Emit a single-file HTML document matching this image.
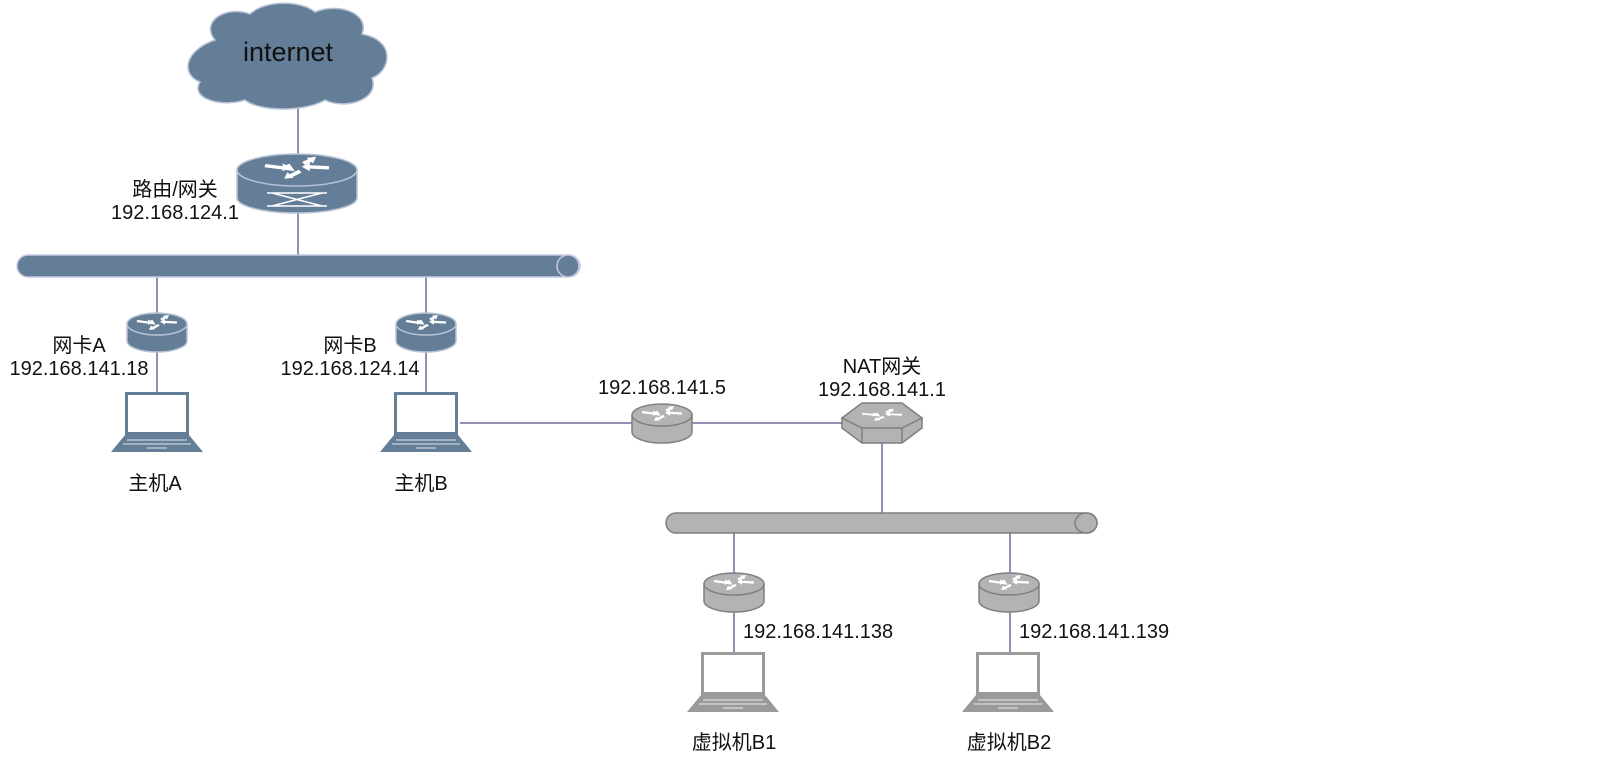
<!DOCTYPE html>
<html><head><meta charset="utf-8"><style>
html,body{margin:0;padding:0;background:#fff;}
text{font-family:"Liberation Sans","Noto Sans CJK SC",sans-serif;fill:#111;}
</style></head><body>
<svg width="1620" height="758" viewBox="0 0 1620 758" xmlns="http://www.w3.org/2000/svg">
<defs>
<g id="arrows">
  <path d="M-20,-4 L-4,-1 L-6,-5 M-4,-1" stroke="#fff" stroke-width="3" fill="none"/>
  <path d="M20,-2 L5,-3" stroke="#fff" stroke-width="3"/>
  <path d="M3,-3 L8,-7 L8,1 Z" fill="#fff"/>
  <path d="M-5,6 L2,1" stroke="#fff" stroke-width="3"/>
  <path d="M-8,8 L-6,2 L-2,7 Z" fill="#fff"/>
  <path d="M4,-6 L10,-10" stroke="#fff" stroke-width="3"/>
  <path d="M12,-12 L6,-11 L10,-6 Z" fill="#fff"/>
  <path d="M-4,-2 L-9,-6 L-9,1 Z" fill="#fff"/>
</g>
<g id="rtB">
  <path d="M-30,-8 L-30,9 A30,11 0 0 0 30,9 L30,-8 Z" fill="#647e98" stroke="#b8c4d6" stroke-width="1.5"/>
  <ellipse cx="0" cy="-8" rx="30" ry="11" fill="#647e98" stroke="#b8c4d6" stroke-width="1.5"/>
  <g transform="translate(0,-8) scale(1,0.75)"><use href="#arrows"/></g>
</g>
<g id="rtG">
  <path d="M-30,-8 L-30,9 A30,11 0 0 0 30,9 L30,-8 Z" fill="#b3b3b3" stroke="#7f7f7f" stroke-width="1.5"/>
  <ellipse cx="0" cy="-8" rx="30" ry="11" fill="#b3b3b3" stroke="#7f7f7f" stroke-width="1.5"/>
  <g transform="translate(0,-8) scale(1,0.75)"><use href="#arrows"/></g>
</g>
<g id="lapB">
  <rect x="-32" y="0" width="64" height="43" fill="#647e98"/>
  <rect x="-29" y="3" width="58" height="37" fill="#fff"/>
  <path d="M-32,43 L32,43 L46,60 L-46,60 Z" fill="#647e98"/>
  <path d="M-30,48 L30,48 M-34,52 L34,52 M-10,56 L10,56" stroke="#dfe5ee" stroke-width="1"/>
</g>
<g id="lapG">
  <rect x="-32" y="0" width="64" height="43" fill="#9a9a9a"/>
  <rect x="-29" y="3" width="58" height="37" fill="#fff"/>
  <path d="M-32,43 L32,43 L46,60 L-46,60 Z" fill="#9a9a9a"/>
  <path d="M-30,48 L30,48 M-34,52 L34,52 M-10,56 L10,56" stroke="#eee" stroke-width="1"/>
</g>
</defs>

<g stroke="#6c6a9a" stroke-width="1.5">
<line x1="298" y1="104" x2="298" y2="156"/>
<line x1="298" y1="210" x2="298" y2="256"/>
<line x1="157" y1="276" x2="157" y2="314"/>
<line x1="426" y1="276" x2="426" y2="314"/>
<line x1="157" y1="350" x2="157" y2="392"/>
<line x1="426" y1="350" x2="426" y2="392"/>
<line x1="460" y1="423" x2="632" y2="423"/>
<line x1="692" y1="423" x2="844" y2="423"/>
<line x1="882" y1="440" x2="882" y2="514"/>
<line x1="734" y1="532" x2="734" y2="574"/>
<line x1="1010" y1="532" x2="1010" y2="574"/>
<line x1="734" y1="610" x2="734" y2="652"/>
<line x1="1010" y1="610" x2="1010" y2="652"/>
</g>

<path d="M215,40 C200,22 225,5 250,14 C265,0 300,0 315,12 C340,2 370,14 362,34 C395,40 392,70 372,78 C380,100 345,110 325,100 C305,112 260,112 245,100 C220,108 190,98 200,82 C180,74 185,50 215,40 Z" fill="#647e98" stroke="#b8c4d6" stroke-width="1.5"/>
<text x="288" y="61" font-size="27" text-anchor="middle">internet</text>

<g transform="translate(297,0)">
  <path d="M-60,170 L-60,198 A60,15 0 0 0 60,198 L60,170 Z" fill="#647e98" stroke="#b8c4d6" stroke-width="1.5"/>
  <ellipse cx="0" cy="170" rx="60" ry="16" fill="#647e98" stroke="#b8c4d6" stroke-width="1.5"/>
  <g transform="translate(0,170) scale(1.6,1.1)"><use href="#arrows"/></g>
  <path d="M-25,193 L25,206 M-25,206 L25,193 M-30,193 L30,193 M-30,206 L30,206" stroke="#fff" stroke-width="1.5"/>
</g>
<text x="175" y="196" font-size="20" text-anchor="middle">路由/网关</text>
<text x="175" y="219" font-size="20" text-anchor="middle">192.168.124.1</text>

<rect x="17" y="255" width="563" height="22" rx="11" fill="#647e98" stroke="#c4c8e0" stroke-width="1.5"/>
<ellipse cx="568" cy="266" rx="11" ry="11" fill="#647e98" stroke="#c4c8e0" stroke-width="1.5"/>

<use href="#rtB" x="157" y="332"/>
<use href="#rtB" x="426" y="332"/>
<text x="79" y="352" font-size="20" text-anchor="middle">网卡A</text>
<text x="79" y="375" font-size="20" text-anchor="middle">192.168.141.18</text>
<text x="350" y="352" font-size="20" text-anchor="middle">网卡B</text>
<text x="350" y="375" font-size="20" text-anchor="middle">192.168.124.14</text>
<use href="#lapB" x="157" y="392"/>
<use href="#lapB" x="426" y="392"/>
<text x="155" y="490" font-size="20" text-anchor="middle">主机A</text>
<text x="421" y="490" font-size="20" text-anchor="middle">主机B</text>

<use href="#rtG" x="662" y="423"/>
<text x="662" y="394" font-size="20" text-anchor="middle">192.168.141.5</text>

<path d="M842,418 L842,428 L862,443 L902,443 L922,428 L922,418 Z" fill="#b3b3b3" stroke="#7f7f7f" stroke-width="1.5"/>
<path d="M842,418 L862,403 L902,403 L922,418 L902,428 L862,428 Z" fill="#b3b3b3" stroke="#7f7f7f" stroke-width="1.5"/>
<path d="M862,428 L862,443 M902,428 L902,443" stroke="#7f7f7f" stroke-width="1.5"/>
<g transform="translate(882,416) scale(1,0.6)"><use href="#arrows"/></g>
<text x="882" y="373" font-size="20" text-anchor="middle">NAT网关</text>
<text x="882" y="396" font-size="20" text-anchor="middle">192.168.141.1</text>

<rect x="666" y="513" width="431" height="20" rx="10" fill="#b3b3b3" stroke="#7f7f7f" stroke-width="1.5"/>
<ellipse cx="1086" cy="523" rx="11" ry="10" fill="#b3b3b3" stroke="#7f7f7f" stroke-width="1.5"/>

<use href="#rtG" x="734" y="592"/>
<use href="#rtG" x="1009" y="592"/>
<text x="743" y="638" font-size="20">192.168.141.138</text>
<text x="1019" y="638" font-size="20">192.168.141.139</text>
<use href="#lapG" x="733" y="652"/>
<use href="#lapG" x="1008" y="652"/>
<text x="734" y="749" font-size="20" text-anchor="middle">虚拟机B1</text>
<text x="1009" y="749" font-size="20" text-anchor="middle">虚拟机B2</text>
</svg>
</body></html>
